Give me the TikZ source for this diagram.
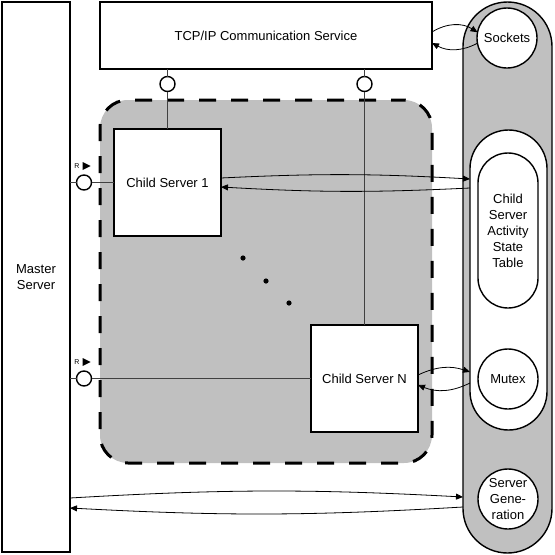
\documentclass[tikz,border=0pt]{standalone}
\usepackage{fontspec}
\setmainfont{Liberation Sans}
\usetikzlibrary{arrows.meta,calc}
\definecolor{poolgray}{HTML}{C0C0C0}
\begin{document}
\begin{tikzpicture}[x=1pt,y=-1pt,
  font=\fontsize{13}{16}\selectfont,
  box/.style={draw, fill=white, line width=1.4pt, inner sep=0pt, outer sep=0pt, align=center},
  child/.style={box, line width=2.6pt, minimum width=107pt, minimum height=107pt},
  roundbox/.style={circle, draw, fill=white, line width=1.4pt, minimum size=60pt, inner sep=0pt, outer sep=0pt, align=center},
  port/.style={circle, draw, fill=white, line width=1.4pt, minimum size=15pt, inner sep=0pt, outer sep=0pt},
  wire/.style={draw=black!75, line width=1.1pt},
  flow/.style={draw, line width=0.8pt, -{Triangle[length=7pt,width=6pt]}},
  rlabel/.style={font=\fontsize{7}{8}\selectfont, inner sep=0pt}
]
\useasboundingbox (0,0) rectangle (555,555);
% right column
\node[box, fill=poolgray, minimum width=89pt, minimum height=551pt, rounded corners=44.5pt] (col) at (507.5,277.5) {};
\node[box, minimum width=77pt, minimum height=300pt, rounded corners=38.5pt] (tblout) at (508.5,280) {};
\node[box, minimum width=60pt, minimum height=155pt, rounded corners=30pt] (tblin) at (508,230.5) {Child\\Server\\Activity\\State\\Table};
\node[roundbox] (sockets) at (507,38) {Sockets};
\node[roundbox] (mutex) at (508,379) {Mutex};
\node[roundbox] (sgen) at (508,499) {Server\\Gene-\\ration};
% master and tcp
\node[box, minimum width=68pt, minimum height=550pt] (master) at (36,277) {Master\\Server};
\node[box, minimum width=332pt, minimum height=67pt] (tcp) at (266,35.5) {TCP/IP Communication Service};
% pool
\node[draw, fill=poolgray, line width=3pt, dash pattern=on 17pt off 15pt, dash phase=4pt, rounded corners=28pt, minimum width=332pt, minimum height=363pt, inner sep=0pt, outer sep=0pt] (pool) at (266,281.5) {};
% child servers
\node[child] (cs1) at (167.5,182.5) {Child Server 1};
\node[child] (csN) at (364.5,378.5) {Child Server N};
% ports
\node[port] (pt1) at (167.5,84) {};
\node[port] (pt2) at (364.5,84) {};
\node[port] (pl1) at (84,182.5) {};
\node[port] (pl2) at (84,378.5) {};
% wires
\draw[wire] (tcp.south -| pt1) -- (pt1);
\draw[wire] (pt1) -- (cs1.north);
\draw[wire] (tcp.south -| pt2) -- (pt2);
\draw[wire] (pt2) -- (csN.north);
\draw[wire] (master.east |- pl1) -- (pl1);
\draw[wire] (pl1) -- (cs1.west);
\draw[wire] (master.east |- pl2) -- (pl2);
\draw[wire] (pl2) -- (csN.west);
% R labels
\node[rlabel] (r1) at (77,166) {R};
\fill ($(r1.east)+(3,-4)$) -- ++(8,4) -- ++(-8,4) -- cycle;
\node[rlabel] (r2) at (77,362) {R};
\fill ($(r2.east)+(3,-4)$) -- ++(8,4) -- ++(-8,4) -- cycle;
% flows
\draw[flow] ($(tcp.east)+(0,-3.5)$) to[bend left=32] (sockets.169);
\draw[flow] (sockets.190) to[bend left=28] ($(tcp.east)+(0,7.5)$);
\draw[flow] ($(cs1.east)+(0,-4.5)$) to[bend left=3] ($(tblout.west |- cs1.east)+(0,-3.5)$);
\draw[flow] ($(tblout.west |- cs1.east)+(0,5.5)$) to[bend left=3] ($(cs1.east)+(0,4.5)$);
\draw[flow] ($(csN.east)+(0,-3.5)$) to[bend left=22] ($(tblout.west |- csN.east)+(0,-6.5)$);
\draw[flow] ($(tblout.west |- csN.east)+(0,4.5)$) to[bend left=24] ($(csN.east)+(0,6.5)$);
\draw[flow] ($(master.east |- sgen)+(0,-1)$) to[bend left=3.2] ($(col.west |- sgen)+(0,-2)$);
\draw[flow] ($(col.west |- sgen)+(0,8)$) to[bend left=3.2] ($(master.east |- sgen)+(0,9)$);
% dots
\fill (243,258) circle[radius=2.6pt];
\fill (266,281) circle[radius=2.6pt];
\fill (289,303) circle[radius=2.6pt];
\end{tikzpicture}
\end{document}
